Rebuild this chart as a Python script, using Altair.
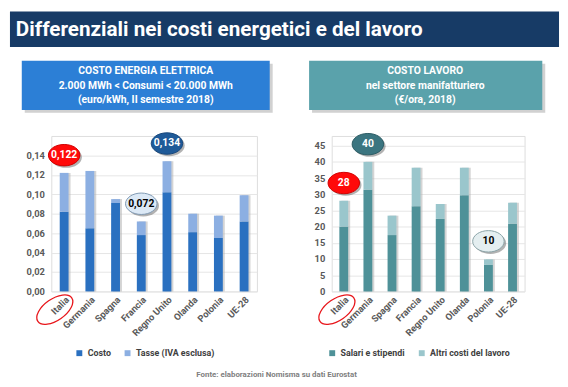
import altair as alt
import pandas as pd

# ---------------- data ----------------
paesi = ["Italia", "Germania", "Spagna", "Francia", "Regno Unito", "Olanda", "Polonia", "UE-28"]
energia_costo = [0.082, 0.065, 0.091, 0.058, 0.102, 0.061, 0.055, 0.072]
energia_tasse = [0.040, 0.059, 0.004, 0.014, 0.032, 0.019, 0.023, 0.027]
lavoro_salari = [20.0, 31.4, 17.4, 26.3, 22.4, 29.7, 8.2, 20.9]
lavoro_altri = [8.0, 8.6, 6.0, 11.9, 4.6, 8.5, 1.7, 6.5]
serie_energia = ["Costo", "Tasse (IVA esclusa)"]
serie_lavoro = ["Salari e stipendi", "Altri costi del lavoro"]

bolle_energia_paesi = ["Italia", "Regno Unito", "Francia"]
bolle_energia_valori = [0.122, 0.134, 0.072]
bolle_energia_testi = ["0,122", "0,134", "0,072"]
bolle_lavoro_paesi = ["Italia", "Germania", "Polonia"]
bolle_lavoro_valori = [28, 40, 10]
bolle_lavoro_testi = ["28", "40", "10"]
bolle_tipo = ["italia", "max", "min"]

tick_energia = [0.0, 0.02, 0.04, 0.06, 0.08, 0.10, 0.12, 0.14]
tick_lavoro = [0, 5, 10, 15, 20, 25, 30, 35, 40, 45]

titolo = "Differenziali nei costi energetici e del lavoro"
sottotitolo_energia = ["COSTO ENERGIA ELETTRICA", "2.000 MWh < Consumi < 20.000 MWh", "(euro/kWh, II semestre 2018)"]
sottotitolo_lavoro = ["COSTO LAVORO", "nel settore manifatturiero", "(€/ora, 2018)"]
fonte = "Fonte: elaborazioni Nomisma su dati Eurostat"

# ---------------- style ----------------
FONT = "Roboto"
GREY = "#595959"
H = 158


def long_df(a, b, names):
    rows = []
    for i, p in enumerate(paesi):
        rows.append({"paese": p, "serie": names[0], "valore": a[i], "ordine": 0})
        rows.append({"paese": p, "serie": names[1], "valore": b[i], "ordine": 1})
    return pd.DataFrame(rows)


def totali_df(a, b):
    return pd.DataFrame({"paese": paesi, "valore": [x + y for x, y in zip(a, b)]})


def bolle_df(pp, vv, tt, fills, text_cols, strokes):
    return pd.DataFrame({
        "paese": pp, "valore": vv, "testo": tt, "tipo": bolle_tipo,
        "fill": [fills[t] for t in bolle_tipo],
        "tcol": [text_cols[t] for t in bolle_tipo],
        "bordo": [strokes[t] for t in bolle_tipo],
    })


ELLISSE = "M-1,0 A1,0.68 0 1,1 1,0 A1,0.68 0 1,1 -1,0 Z"
ELLISSE_IT = "M-1,0 A1,0.52 0 1,1 1,0 A1,0.52 0 1,1 -1,0 Z"


def pannello(df, tot, bolle, serie, colori, dom_max, ticks, label_expr, W,
             box_col, box_x, box_x2, box_cx, sottotitolo, legend_x, it_off, extra=None):
    xs = alt.X("paese:N", sort=paesi, title=None,
               axis=alt.Axis(labelAngle=315, labelFont=FONT, labelFontSize=9.5,
                             labelFontWeight="bold", labelColor=GREY, domain=False,
                             ticks=False, labelPadding=3, grid=False, labelOverlap=False))

    def ys(stack=None):
        kw = {}
        if stack:
            kw["stack"] = "zero"
        return alt.Y("valore:Q", title=None,
                     scale=alt.Scale(domain=[0, dom_max], nice=False, zero=True),
                     axis=alt.Axis(values=ticks, labelExpr=label_expr, labelFont=FONT,
                                   labelFontSize=9.5, labelFontWeight="bold", labelColor=GREY,
                                   domain=False, ticks=False, labelPadding=7, labelOverlap=False,
                                   gridColor="#e6e6e6", gridWidth=1, tickCount=len(ticks)),
                     **kw)

    one = pd.DataFrame({"k": [0]})
    box_shadow = alt.Chart(one).mark_rect(color="#9a9a9a", opacity=0.45).encode(
        x=alt.value(box_x + 3), x2=alt.value(box_x2 + 3), y=alt.value(-76.5 + 3), y2=alt.value(-26.5 + 3))
    box = alt.Chart(one).mark_rect(color=box_col).encode(
        x=alt.value(box_x), x2=alt.value(box_x2), y=alt.value(-76.5), y2=alt.value(-26.5))
    box_text = alt.Chart(one).mark_text(font=FONT, fontSize=10.5, fontWeight="bold", color="white",
                                        align="center", baseline="middle", lineHeight=15).encode(
        x=alt.value(box_cx), y=alt.value(-66), text=alt.value(sottotitolo))

    bar_shadow = alt.Chart(tot).mark_bar(size=9, color="#b0b0b0", opacity=0.55, xOffset=2).encode(
        x=xs, y=ys())
    bars = alt.Chart(df).mark_bar(size=9).encode(
        x=xs, y=ys(True),
        color=alt.Color("serie:N", sort=serie,
                        scale=alt.Scale(domain=serie, range=colori),
                        legend=alt.Legend(title=None, orient="none", direction="horizontal",
                                          legendX=legend_x, legendY=216, symbolType="square",
                                          symbolSize=36, symbolStrokeWidth=0, labelFont=FONT,
                                          labelFontSize=9, labelFontWeight="bold",
                                          labelColor="#404040", columnPadding=12, padding=0,
                                          labelOffset=4)),
        order=alt.Order("ordine:Q"))

    b_shadow = alt.Chart(bolle).mark_point(shape=ELLISSE, size=1024, filled=True, color="#555555",
                                           opacity=0.45, yOffset=-16, xOffset=2).encode(
        x=xs, y=ys())
    b_fill = alt.Chart(bolle).mark_point(shape=ELLISSE, size=1024, filled=True, opacity=1,
                                         yOffset=-18, strokeWidth=1).encode(
        x=xs, y=ys(),
        fill=alt.Fill("fill:N", scale=None),
        stroke=alt.Stroke("bordo:N", scale=None))
    b_text = alt.Chart(bolle).mark_text(font=FONT, fontSize=10.5, fontWeight="bold",
                                        yOffset=-18, baseline="middle").encode(
        x=xs, y=ys(), text="testo:N",
        fill=alt.Fill("tcol:N", scale=None))

    it = alt.Chart(pd.DataFrame({"paese": ["Italia"]})).mark_point(
        shape=ELLISSE_IT, size=1764, filled=False, color="#e8161b", strokeWidth=1.3,
        angle=325, opacity=1, xOffset=it_off).encode(x=xs, y=alt.value(176.5))

    layers = [bar_shadow, bars, box_shadow, box, box_text]
    if extra is not None:
        layers = layers + extra
    layers += [b_shadow, b_fill, b_text, it]
    return alt.layer(*layers).properties(width=W, height=H)


# ---- left panel (energy) ----
df_e = long_df(energia_costo, energia_tasse, serie_energia)
tot_e = totali_df(energia_costo, energia_tasse)
bol_e = bolle_df(bolle_energia_paesi, bolle_energia_valori, bolle_energia_testi,
                 {"italia": "#ff0a0a", "max": "#1f5a98", "min": "#dce9f6"},
                 {"italia": "white", "max": "white", "min": "black"},
                 {"italia": "#d00000", "max": "#17467a", "min": "#7f99b3"})

one = pd.DataFrame({"t": [titolo]})
banner = alt.Chart(one).mark_rect(color="#173b66").encode(
    x=alt.value(-42), x2=alt.value(516), y=alt.value(-126.5), y2=alt.value(-90.5))
title_txt = alt.Chart(one).mark_text(font=FONT, fontSize=21, fontWeight="bold", color="white",
                                     align="left", baseline="alphabetic").encode(
    x=alt.value(-36), y=alt.value(-101.5), text="t:N")
fonte_txt = alt.Chart(pd.DataFrame({"t": [fonte]})).mark_text(
    font=FONT, fontSize=8, fontWeight="bold", color="#7f7f7f", align="center",
    baseline="middle").encode(x=alt.value(229), y=alt.value(242.5), text="t:N")

left = pannello(df_e, tot_e, bol_e, serie_energia, ["#2a70c0", "#8cafe2"], 0.16, tick_energia,
                "replace(format(datum.value, '.2f'), '.', ',')", 209,
                "#2c7fd6", -30, 222, 96, sottotitolo_energia, 24, -9.5,
                extra=[banner, title_txt, fonte_txt])

# ---- right panel (labour) ----
df_l = long_df(lavoro_salari, lavoro_altri, serie_lavoro)
tot_l = totali_df(lavoro_salari, lavoro_altri)
bol_l = bolle_df(bolle_lavoro_paesi, bolle_lavoro_valori, bolle_lavoro_testi,
                 {"italia": "#ff0a0a", "max": "#3b7580", "min": "#e4eef0"},
                 {"italia": "white", "max": "white", "min": "black"},
                 {"italia": "#d00000", "max": "#2c5c64", "min": "#8aa3a7"})

right = pannello(df_l, tot_l, bol_l, serie_lavoro, ["#4e9198", "#9ac6cc"], 48, tick_lavoro,
                 "format(datum.value, 'd')", 196,
                 "#5aa2ab", -23, 214, 95, sottotitolo_lavoro, -4, -7)

chart = alt.hconcat(left, right, spacing=76, bounds="flush").resolve_scale(
    color="independent", x="independent", y="independent", fill="independent", stroke="independent"
).properties(
    padding={"left": 1, "top": 0, "right": 0, "bottom": 0}
).configure_view(strokeWidth=0).configure(background="white")

chart.save("out.html", embed_options={"renderer": "svg", "actions": False})
